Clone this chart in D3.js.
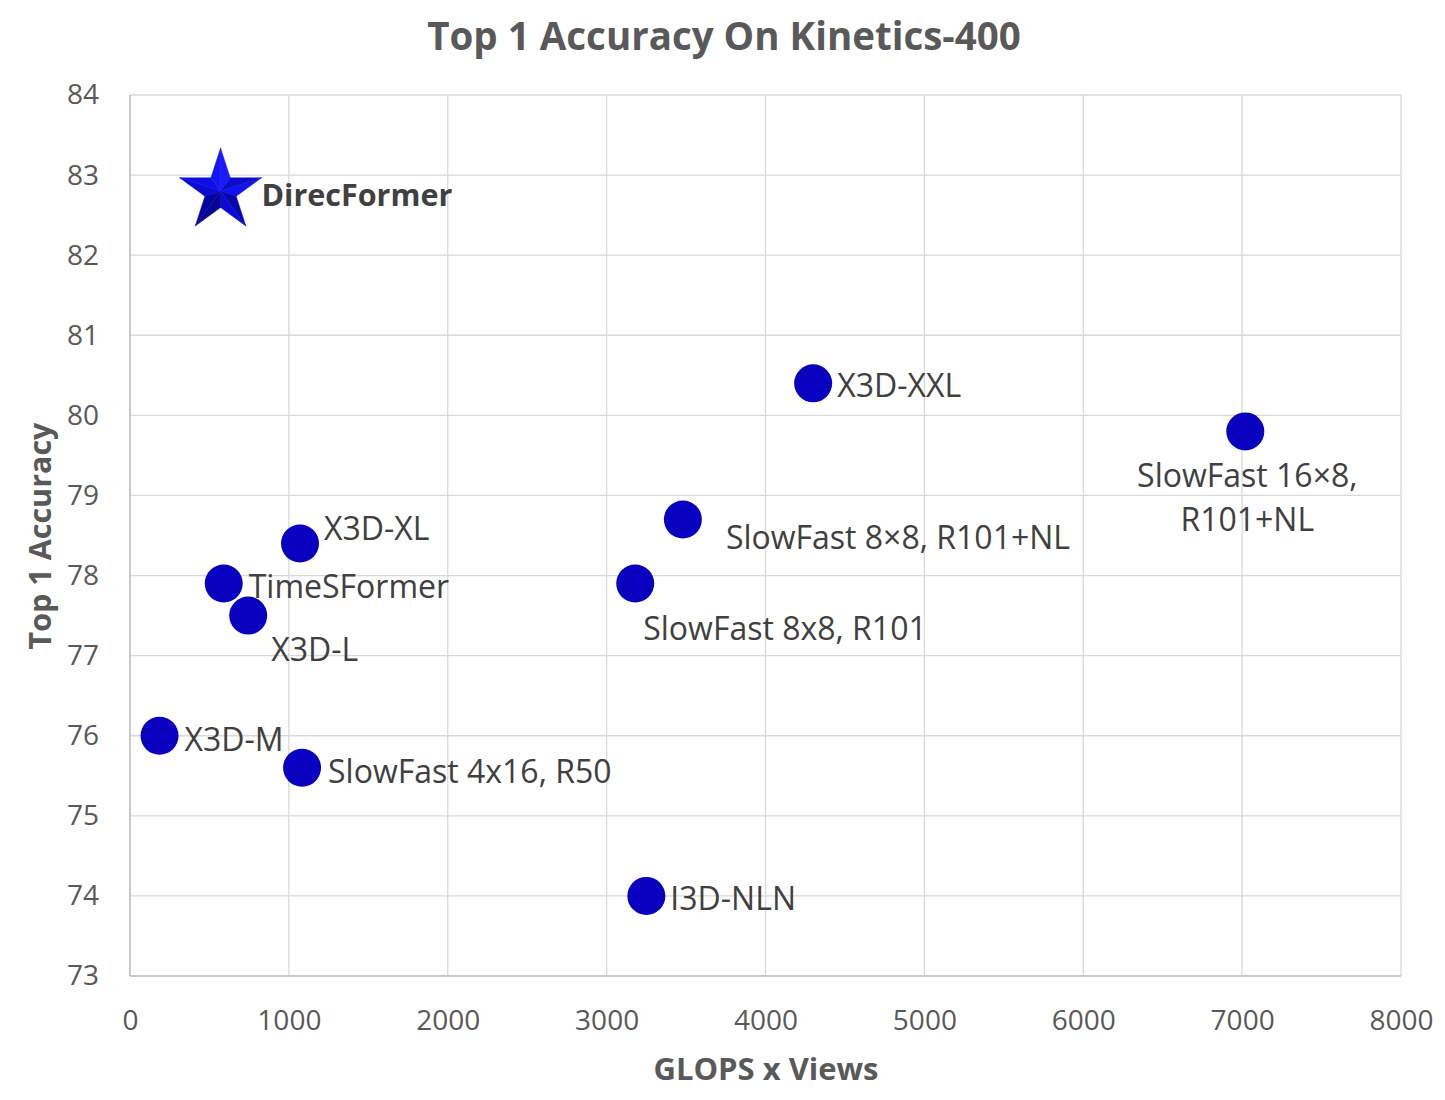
<!DOCTYPE html>
<html><head><meta charset="utf-8">
<script src="https://cdn.jsdelivr.net/npm/d3@7"></script>
<style>body{margin:0;background:#fff;} text{font-family:"Open Sans",sans-serif;}</style>
</head><body>
<svg id="chart" width="1445" height="1100"></svg>
<script>
const models = ["DirecFormer","X3D-XXL","SlowFast 16×8,\nR101+NL","SlowFast 8×8, R101+NL","SlowFast 8x8, R101","X3D-XL","TimeSFormer","X3D-L","X3D-M","SlowFast 4x16, R50","I3D-NLN"];
const gflopsViews = [570,4300,7020,3480,3180,1070,590,744,186,1083,3250];
const top1 = [82.8,80.4,79.8,78.7,77.9,78.4,77.9,77.5,76.0,75.6,74.0];
const xTicks = [0,1000,2000,3000,4000,5000,6000,7000,8000];
const yTicks = [73,74,75,76,77,78,79,80,81,82,83,84];
// label placement (anchor, dx, dy in px relative to marker)
const labelAnchor = ["start","start","middle","start","start","start","start","start","start","start","start"];
const labelDx = [41,24,2,43,8,24,25,23,25,26,24];
const labelDy = [3,1,43,17,43,-17,1,32,2,2,1];

const svg = d3.select("#chart");
const L=130, R=1401, T=95, B=976;
const x = d3.scaleLinear().domain([0,8000]).range([L,R]);
const y = d3.scaleLinear().domain([73,84]).range([B,T]);

// gridlines
svg.append("g").selectAll("line").data(xTicks).join("line")
  .attr("x1",d=>x(d)).attr("x2",d=>x(d)).attr("y1",T).attr("y2",B)
  .attr("stroke","#d9d9d9").attr("stroke-width",1.3);
svg.append("g").selectAll("line").data(yTicks).join("line")
  .attr("x1",L).attr("x2",R).attr("y1",d=>y(d)).attr("y2",d=>y(d))
  .attr("stroke","#d9d9d9").attr("stroke-width",1.3);
svg.append("line").attr("x1",L).attr("x2",R).attr("y1",B).attr("y2",B).attr("stroke","#bfbfbf").attr("stroke-width",1.5);
svg.append("line").attr("x1",L).attr("x2",L).attr("y1",T).attr("y2",B).attr("stroke","#bfbfbf").attr("stroke-width",1.5);

// axes labels via d3 axes
const xAxis = svg.append("g").attr("transform",`translate(0,${B})`)
  .call(d3.axisBottom(x).tickValues(xTicks).tickFormat(d3.format("d")).tickSize(0).tickPadding(34));
xAxis.select(".domain").remove();
xAxis.selectAll("text").attr("font-size",28).attr("fill","#595959").attr("font-family","Open Sans");
const yAxis = svg.append("g").attr("transform",`translate(${L},0)`)
  .call(d3.axisLeft(y).tickValues(yTicks).tickSize(0).tickPadding(31));
yAxis.select(".domain").remove();
yAxis.selectAll("text").attr("font-size",28).attr("fill","#595959").attr("font-family","Open Sans");

// titles
svg.append("text").attr("x",724).attr("y",50).attr("text-anchor","middle")
  .attr("font-size",38.5).attr("font-weight","bold").attr("fill","#595959").text("Top 1 Accuracy On Kinetics-400");
svg.append("text").attr("x",766).attr("y",1080).attr("text-anchor","middle")
  .attr("font-size",31).attr("font-weight","bold").attr("fill","#595959").text("GLOPS x Views");
svg.append("text").attr("transform","translate(51,536) rotate(-90)").attr("text-anchor","middle")
  .attr("font-size",30.5).attr("font-weight","bold").attr("fill","#595959").text("Top 1 Accuracy");

const data = models.map((m,i)=>({name:m,x:gflopsViews[i],y:top1[i],anchor:labelAnchor[i],dx:labelDx[i],dy:labelDy[i],i}));

// circles (all but star)
svg.append("g").selectAll("circle").data(data.filter(d=>d.i>0)).join("circle")
  .attr("cx",d=>x(d.x)).attr("cy",d=>y(d.y)).attr("r",19).attr("fill","#0a00bf");

// star with facets
const star = data[0];
const Ro=43, Ri=Ro*0.382;
const sg = svg.append("g").attr("transform",`translate(${x(star.x)},${y(star.y)})`);
const pts=[];
for(let k=0;k<10;k++){const a=-Math.PI/2+k*Math.PI/5; const r=k%2===0?Ro:Ri; pts.push([r*Math.cos(a),r*Math.sin(a)]);}
const shades=["#1a1aff","#0c0cc8","#1212ee","#0808a8","#0a0ad8","#060690","#0505a0","#0a0ad0","#0e0ee6","#1414f8"];
for(let k=0;k<10;k++){
  const p1=pts[k], p2=pts[(k+1)%10];
  sg.append("path").attr("d",`M0,0L${p1[0]},${p1[1]}L${p2[0]},${p2[1]}Z`).attr("fill",shades[k]).attr("stroke",shades[k]).attr("stroke-width",0.5);
}

// labels
const lg = svg.append("g");
data.forEach(d=>{
  const lines=d.name.split("\n");
  const t=lg.append("text").attr("x",x(d.x)+d.dx).attr("y",y(d.y)+d.dy)
    .attr("text-anchor",d.anchor).attr("dominant-baseline","central")
    .attr("font-size",d.i===0?30.5:32).attr("font-weight",d.i===0?"bold":"normal")
    .attr("fill","#404040");
  lines.forEach((ln,j)=>t.append("tspan").attr("x",x(d.x)+d.dx).attr("dy",j===0?0:44).text(ln));
});
</script>
</body></html>
